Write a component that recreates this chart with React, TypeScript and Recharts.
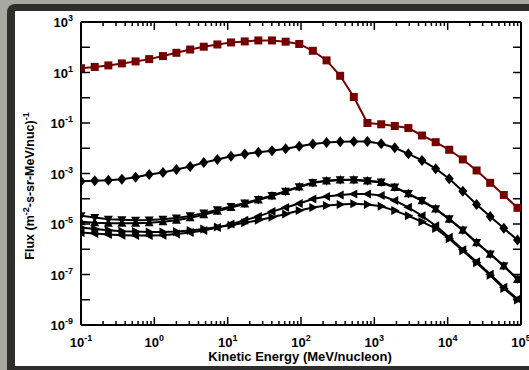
import { Line, LineChart, XAxis, YAxis } from "recharts";

const RED = "#740000";
const FONT = "'Liberation Sans', Arial, Helvetica, sans-serif";

// kinetic energy, MeV/nucleon
const energy = [
  0.1, 0.154, 0.236, 0.361, 0.555, 0.851, 1.31, 2.0, 3.08, 4.72, 7.24, 11.1, 17.1, 26.2, 40.2, 61.7,
  94.6, 145, 223, 342, 525, 805, 1240, 1900, 2910, 4470, 6860, 10500, 16100, 24800, 38000, 58300, 89500,
];

const squares = [
  14.8, 16.6, 19.1, 22.9, 27.5, 33.9, 44.7, 60.3, 81.3, 105, 129, 155, 170, 186, 186, 166, 135, 72.4,
  30.2, 7.41, 1.07, 0.1, 0.089, 0.076, 0.063, 0.032, 0.0174, 0.0087, 0.0036, 0.00132, 4.27e-4, 1.41e-4,
  4.37e-5,
];

const diamonds = [
  4.9e-4, 5.2e-4, 5.4e-4, 5.9e-4, 7.1e-4, 9.1e-4, 1.1e-3, 1.45e-3, 1.9e-3, 2.7e-3, 3.6e-3, 4.8e-3, 5.9e-3,
  6.9e-3, 7.9e-3, 9.5e-3, 1.2e-2, 1.48e-2, 1.7e-2, 1.8e-2, 1.86e-2, 1.86e-2, 1.5e-2, 1.05e-2, 6.0e-3,
  3.3e-3, 1.55e-3, 6.2e-4, 2.0e-4, 5.9e-5, 2.0e-5, 6.8e-6, 2.3e-6,
];

const downTri = [
  2.1e-5, 1.8e-5, 1.55e-5, 1.48e-5, 1.41e-5, 1.44e-5, 1.55e-5, 1.74e-5, 2.1e-5, 2.7e-5, 3.7e-5, 4.9e-5,
  6.8e-5, 9.3e-5, 1.35e-4, 2.0e-4, 3.0e-4, 4.4e-4, 5.2e-4, 5.6e-4, 5.6e-4, 5.2e-4, 4.6e-4, 2.9e-4, 1.6e-4,
  8.5e-5, 4.0e-5, 1.6e-5, 5.8e-6, 1.86e-6, 6.5e-7, 2.2e-7, 6.6e-8,
];

const upTri = [
  1.23e-5, 1.12e-5, 1.07e-5, 1.07e-5, 1.07e-5, 1.12e-5, 1.23e-5, 1.41e-5, 1.78e-5, 2.3e-5, 3.2e-5, 4.5e-5,
  6.2e-5, 8.9e-5, 1.29e-4, 1.94e-4, 2.9e-4, 4.2e-4, 5.1e-4, 5.5e-4, 5.5e-4, 5.1e-4, 4.4e-4, 2.8e-4,
  1.56e-4, 8.3e-5, 3.9e-5, 1.55e-5, 5.6e-6, 1.82e-6, 6.3e-7, 2.15e-7, 6.4e-8,
];

const leftTri = [
  4.6e-6, 4.2e-6, 3.8e-6, 3.6e-6, 3.5e-6, 3.5e-6, 3.6e-6, 4.0e-6, 4.6e-6, 5.5e-6, 7.2e-6, 9.9e-6, 1.41e-5,
  2.0e-5, 3.1e-5, 4.5e-5, 6.5e-5, 9.8e-5, 1.23e-4, 1.41e-4, 1.55e-4, 1.55e-4, 1.35e-4, 8.5e-5, 4.6e-5,
  2.1e-5, 8.5e-6, 3.0e-6, 9.6e-7, 3.2e-7, 1.02e-7, 3.1e-8, 1.07e-8,
];

const rightTri = [
  7.2e-6, 6.3e-6, 5.7e-6, 5.2e-6, 5.0e-6, 4.8e-6, 4.8e-6, 5.0e-6, 5.5e-6, 6.3e-6, 7.6e-6, 9.0e-6, 1.12e-5,
  1.41e-5, 1.86e-5, 2.5e-5, 3.4e-5, 4.5e-5, 5.4e-5, 5.9e-5, 6.3e-5, 5.9e-5, 5.0e-5, 3.4e-5, 2.1e-5,
  1.23e-5, 6.6e-6, 2.6e-6, 8.7e-7, 2.9e-7, 9.3e-8, 2.8e-8, 9.8e-9,
];

const xMajor = [0.1, 1, 10, 100, 1000, 10000, 100000];
const xMinorSteps = [2, 3, 4, 5, 6, 7, 8, 9];
const yTicks = [1e-9, 1e-8, 1e-7, 1e-6, 1e-5, 1e-4, 1e-3, 1e-2, 1e-1, 1, 10, 100, 1000];
const yLabelled = [-9, -7, -5, -3, -1, 1, 3];

const xTicks: number[] = [];
xMajor.forEach((m, i) => {
  xTicks.push(m);
  if (i < xMajor.length - 1) xMinorSteps.forEach((s) => xTicks.push(m * s));
});

const data = energy.map((e, i) => ({
  e,
  squares: squares[i],
  diamonds: diamonds[i],
  downTri: downTri[i],
  upTri: upTri[i],
  leftTri: leftTri[i],
  rightTri: rightTri[i],
}));

const expOf = (v: number) => Math.round(Math.log10(v));
const isMajor = (v: number) => Math.abs(Math.log10(v) - expOf(v)) < 1e-6;

function Pow({ x, y, exp, anchor }: { x: number; y: number; exp: number; anchor: "middle" | "end" }) {
  return (
    <text x={x} y={y} textAnchor={anchor} fontFamily={FONT} fontWeight="bold" fontSize={13} fill="#000">
      <tspan>10</tspan>
      <tspan dy={-6} fontSize={9}>
        {exp}
      </tspan>
    </text>
  );
}

function BottomTick(p: any) {
  const v = p.payload.value;
  const major = isMajor(v);
  return (
    <g>
      <line x1={p.x} x2={p.x} y1={p.y} y2={p.y - (major ? 8 : 4)} stroke="#000" strokeWidth={1.5} />
      {major && <Pow x={p.x} y={p.y + 22} exp={expOf(v)} anchor="middle" />}
    </g>
  );
}

function TopTick(p: any) {
  const major = isMajor(p.payload.value);
  return <line x1={p.x} x2={p.x} y1={p.y} y2={p.y + (major ? 8 : 4)} stroke="#000" strokeWidth={1.5} />;
}

function LeftTick(p: any) {
  const exp = expOf(p.payload.value);
  return (
    <g>
      <line x1={p.x} x2={p.x + 9} y1={p.y} y2={p.y} stroke="#000" strokeWidth={1.5} />
      {yLabelled.includes(exp) && <Pow x={p.x - 8} y={p.y + 5} exp={exp} anchor="end" />}
    </g>
  );
}

function RightTick(p: any) {
  return <line x1={p.x} x2={p.x - 8} y1={p.y} y2={p.y} stroke="#000" strokeWidth={1.5} />;
}

const square = (p: any) => (
  <rect key={p.index} x={p.cx - 4} y={p.cy - 4} width={8} height={8} fill={RED} />
);
const poly = (pts: number[][]) => (p: any) => (
  <polygon
    key={p.index}
    points={pts.map(([dx, dy]) => `${p.cx + dx},${p.cy + dy}`).join(" ")}
    fill="#000"
  />
);
const diamond = poly([[0, -5.5], [4.5, 0], [0, 5.5], [-4.5, 0]]);
const triUp = poly([[0, -5], [4.5, 3.5], [-4.5, 3.5]]);
const triDown = poly([[0, 5], [4.5, -3.5], [-4.5, -3.5]]);
const triLeft = poly([[-5, 0], [3.5, -4.5], [3.5, 4.5]]);
const triRight = poly([[5, 0], [-3.5, -4.5], [-3.5, 4.5]]);

const axisLine = { stroke: "#000", strokeWidth: 2 };

export default function App() {
  return (
    <div
      style={{
        position: "fixed",
        left: 0,
        top: 0,
        width: 529,
        height: 370,
        background: "#a7a8a0",
        overflow: "hidden",
      }}
    >
      <div
        style={{
          position: "absolute",
          left: 7,
          top: 4,
          width: 522,
          height: 366,
          background: "#2e2e2e",
          borderTopLeftRadius: 8,
        }}
      />
      <div style={{ position: "absolute", left: 15, top: 11, width: 514, height: 355, background: "#fff" }} />
      <div style={{ position: "absolute", left: 0, top: 0 }}>
        <LineChart width={529} height={370} data={data} margin={{ top: 20, right: 6, bottom: 15, left: 21 }}>
          <XAxis
            xAxisId="b"
            dataKey="e"
            type="number"
            scale="log"
            domain={[0.1, 100000]}
            allowDataOverflow
            ticks={xTicks}
            interval={0}
            height={30}
            tickSize={0}
            tickMargin={0}
            tickLine={false}
            axisLine={axisLine}
            tick={<BottomTick />}
          />
          <XAxis
            xAxisId="t"
            orientation="top"
            dataKey="e"
            type="number"
            scale="log"
            domain={[0.1, 100000]}
            allowDataOverflow
            ticks={xTicks}
            interval={0}
            height={2}
            tickSize={0}
            tickMargin={0}
            tickLine={false}
            axisLine={axisLine}
            tick={<TopTick />}
          />
          <YAxis
            yAxisId="l"
            type="number"
            scale="log"
            domain={[1e-9, 1000]}
            allowDataOverflow
            ticks={yTicks}
            interval={0}
            width={60}
            tickSize={0}
            tickMargin={0}
            tickLine={false}
            axisLine={axisLine}
            tick={<LeftTick />}
          />
          <YAxis
            yAxisId="r"
            orientation="right"
            type="number"
            scale="log"
            domain={[1e-9, 1000]}
            allowDataOverflow
            ticks={yTicks}
            interval={0}
            width={2}
            tickSize={0}
            tickMargin={0}
            tickLine={false}
            axisLine={axisLine}
            tick={<RightTick />}
          />
          <Line xAxisId="b" yAxisId="l" dataKey="rightTri" stroke="#000" strokeWidth={2} dot={triRight} isAnimationActive={false} />
          <Line xAxisId="b" yAxisId="l" dataKey="leftTri" stroke="#000" strokeWidth={2} dot={triLeft} isAnimationActive={false} />
          <Line xAxisId="b" yAxisId="l" dataKey="upTri" stroke="#000" strokeWidth={2} dot={triUp} isAnimationActive={false} />
          <Line xAxisId="b" yAxisId="l" dataKey="downTri" stroke="#000" strokeWidth={2} dot={triDown} isAnimationActive={false} />
          <Line xAxisId="b" yAxisId="l" dataKey="diamonds" stroke="#000" strokeWidth={2} dot={diamond} isAnimationActive={false} />
          <Line xAxisId="b" yAxisId="l" dataKey="squares" stroke={RED} strokeWidth={2} dot={square} isAnimationActive={false} />
        </LineChart>
      </div>
      <svg width={529} height={370} style={{ position: "absolute", left: 0, top: 0, pointerEvents: "none" }}>
        <text x={300} y={361} textAnchor="middle" fontFamily={FONT} fontWeight="bold" fontSize={13} fill="#000">
          Kinetic Energy (MeV/nucleon)
        </text>
        <text
          transform="translate(34,186) rotate(-90)"
          textAnchor="middle"
          fontFamily={FONT}
          fontWeight="bold"
          fontSize={12.5}
          fill="#000"
        >
          <tspan>Flux (m</tspan>
          <tspan dy={-5} fontSize={9}>-2</tspan>
          <tspan dy={5}>-s-sr-MeV/nuc)</tspan>
          <tspan dy={-5} fontSize={9}>-1</tspan>
        </text>
      </svg>
    </div>
  );
}
